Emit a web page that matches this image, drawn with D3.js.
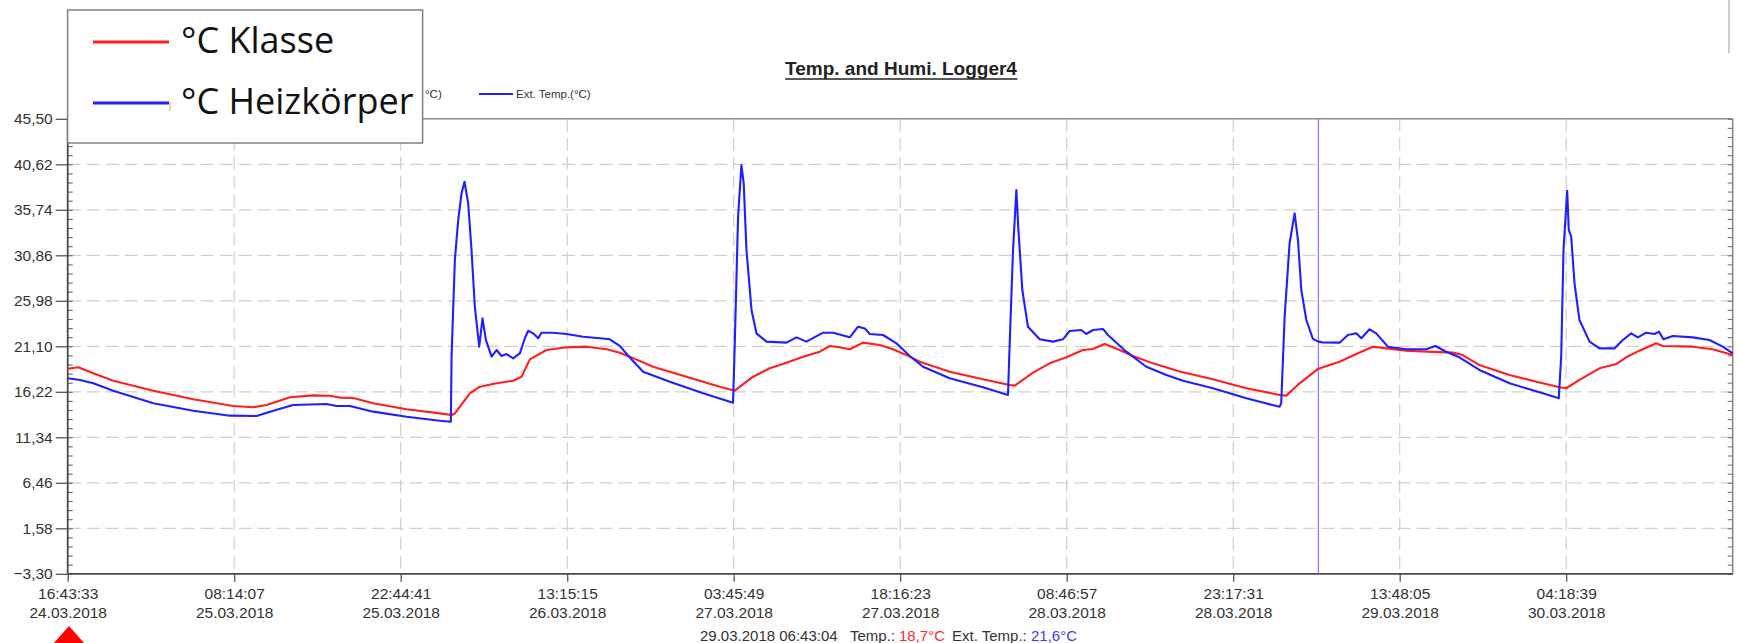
<!DOCTYPE html>
<html>
<head>
<meta charset="utf-8">
<script src="https://cdn.jsdelivr.net/npm/d3@7"></script>
<style>
  html, body { margin: 0; padding: 0; background: #fff; }
  svg { display: block; font-family: "Liberation Sans", Arial, sans-serif; }
</style>
</head>
<body>
<svg id="chart" width="1739" height="643"></svg>
<script>
// ---- Logger time frame ----
const startTime = "2018-03-24T16:43:33+01:00";
const endTime   = "2018-03-30T18:49:13+02:00";

const xTickTimes = [
  "2018-03-24T16:43:33+01:00", "2018-03-25T08:14:07+02:00", "2018-03-25T22:44:41+02:00",
  "2018-03-26T13:15:15+02:00", "2018-03-27T03:45:49+02:00", "2018-03-27T18:16:23+02:00",
  "2018-03-28T08:46:57+02:00", "2018-03-28T23:17:31+02:00", "2018-03-29T13:48:05+02:00",
  "2018-03-30T04:18:39+02:00"
];
const xTickClock = ["16:43:33", "08:14:07", "22:44:41", "13:15:15", "03:45:49",
                    "18:16:23", "08:46:57", "23:17:31", "13:48:05", "04:18:39"];
const xTickDates = ["24.03.2018", "25.03.2018", "25.03.2018", "26.03.2018", "27.03.2018",
                    "27.03.2018", "28.03.2018", "28.03.2018", "29.03.2018", "30.03.2018"];

const yTicks = [-3.30, 1.58, 6.46, 11.34, 16.22, 21.10, 25.98, 30.86, 35.74, 40.62, 45.50];

// ---- Series: hours since start / temperature in °C ----
const klasseHours = [0, 0.92, 2.23, 3.97, 7.46, 10.94, 14.43, 16.17, 17.33, 19.37, 21.40, 22.85, 23.72, 24.88,
  26.62, 29.53, 32.43, 33.45, 33.74, 35.05, 35.92, 37.37, 38.82, 39.55, 40.27, 41.73, 43.47, 45.21, 46.96,
  48.11, 48.98, 51.01, 53.92, 56.82, 58.13, 59.73, 61.18, 62.64, 64.08, 65.54, 66.41, 67.28, 68.15, 69.31,
  70.76, 71.92, 73.38, 74.25, 76.86, 79.76, 82.09, 82.53, 84.12, 85.57, 87.03, 88.47, 89.35, 90.36, 91.67,
  92.83, 94.57, 96.90, 99.80, 102.71, 105.61, 106.19, 107.35, 108.99, 110.84, 112.29, 113.74, 114.90,
  116.64, 118.97, 120.71, 121.50, 123.02, 125.65, 128.55, 130.00, 130.59, 131.74, 133.49, 134.94, 135.81,
  136.97, 138.42, 139.00, 141.62, 143.36, 145.09];
const klasseTemps = [18.70, 18.85, 18.20, 17.41, 16.34, 15.42, 14.70, 14.56, 14.80, 15.63, 15.84, 15.80, 15.60, 15.55,
  14.99, 14.34, 13.91, 13.73, 13.90, 16.06, 16.77, 17.13, 17.41, 17.84, 19.70, 20.70, 20.99, 21.06, 20.78,
  20.40, 19.99, 18.91, 17.84, 16.77, 16.34, 17.84, 18.74, 19.34, 19.99, 20.52, 21.13, 20.99, 20.78, 21.49,
  21.24, 20.78, 19.99, 19.45, 18.38, 17.56, 16.95, 16.88, 18.27, 19.27, 19.92, 20.70, 20.81, 21.35, 20.70,
  20.06, 19.27, 18.40, 17.56, 16.60, 15.88, 15.81, 17.13, 18.70, 19.45, 20.27, 21.06, 20.88,
  20.63, 20.50, 20.42, 20.20, 19.09, 18.02, 17.13, 16.70, 16.60, 17.49, 18.74, 19.20, 19.92,
  20.63, 21.42, 21.13, 21.06, 20.78, 20.17];

const heizHours = [0, 1.07, 2.23, 3.97, 7.46, 10.94, 14.14, 16.46, 17.91, 19.65, 22.56, 23.43, 24.59,
  26.62, 29.53, 32.43, 33.39, 33.45, 33.74, 34.03, 34.32, 34.58, 34.90, 35.19, 35.48, 35.86, 36.15, 36.44,
  36.94, 37.37, 37.81, 38.24, 38.82, 39.40, 39.84, 40.13, 40.56, 41.00, 41.29, 42.30, 43.47, 44.92, 46.37,
  47.24, 48.11, 48.98, 50.14, 52.47, 55.37, 57.98, 58.10, 58.42, 58.71, 58.91, 59.15, 59.59, 60.02, 60.89,
  62.64, 63.51, 64.38, 65.83, 66.70, 68.15, 68.88, 69.46, 69.89, 71.05, 72.22, 73.38, 74.54, 76.86, 79.76,
  81.94, 82.05, 82.38, 82.67, 82.84, 83.19, 83.68, 84.70, 85.86, 86.73, 87.31, 88.33, 88.76, 89.35, 90.22,
  90.65, 92.25, 94.00, 95.74, 97.20, 99.80, 102.71, 105.61, 105.75, 106.05, 106.48, 106.92, 107.21, 107.50,
  107.94, 108.51, 108.99, 109.38, 110.84, 111.56, 112.29, 112.73, 113.45, 114.03, 115.04, 116.64, 118.38,
  119.19, 120.12, 121.28, 123.02, 125.65, 128.55, 129.94, 130.15, 130.35, 130.53, 130.67, 130.81, 131.02,
  131.31, 131.74, 132.62, 133.49, 134.80, 135.52, 136.25, 136.83, 137.56, 138.28, 138.66, 139.06, 139.87,
  141.62, 143.07, 144.23, 145.09];
const heizTemps = [17.67, 17.49, 17.13, 16.34, 14.99, 14.19, 13.66, 13.62, 14.19, 14.80, 14.91, 14.70, 14.70,
  14.09, 13.55, 13.12, 13.01, 19.99, 30.36, 34.65, 37.51, 38.75, 36.44, 31.43, 25.35, 21.06, 24.10, 21.78,
  19.99, 20.70, 20.06, 20.27, 19.81, 20.35, 21.96, 22.77, 22.49, 21.96, 22.56, 22.56, 22.42, 22.13, 21.96,
  21.85, 21.15, 19.90, 18.38, 17.30, 16.06, 15.05, 20.00, 35.00, 40.54, 38.58, 31.43, 25.00, 22.49, 21.60,
  21.49, 22.06, 21.60, 22.56, 22.56, 22.06, 23.20, 23.02, 22.42, 22.31, 21.42, 20.06, 18.91, 17.67, 16.70,
  15.88, 20.00, 31.43, 37.87, 33.76, 27.14, 23.20, 21.85, 21.60, 21.85, 22.74, 22.85, 22.42, 22.85, 22.96,
  22.31, 20.52, 18.91, 18.02, 17.40, 16.60, 15.52, 14.62, 15.00, 24.28, 32.15, 35.36, 32.50, 27.14,
  23.92, 21.90, 21.60, 21.50, 21.49, 22.31, 22.49, 21.96, 22.92, 22.49, 21.06, 20.78, 20.78,
  21.13, 20.52, 19.92, 18.56, 17.13, 16.06, 15.52, 20.00, 31.43, 35.00, 37.79, 33.58, 32.86,
  27.86, 23.92, 21.60, 20.88, 20.88, 21.78, 22.49, 22.06, 22.56, 22.42, 22.67, 21.85, 22.20,
  22.06, 21.78, 21.06, 20.35];

// ---- Cursor readout ----
const cursorTime = "2018-03-29T06:43:04+02:00";
const cursorLabel = "29.03.2018 06:43:04";
const cursorTemp = "18,7°C";
const cursorExtTemp = "21,6°C";

const title = "Temp. and Humi. Logger4";
const legendLabels = ["°C Klasse", "°C Heizkörper"];
const seriesColors = ["#ff1f1f", "#1f1fff"];

// ---- Layout ----
const svg = d3.select("#chart");
const plot = { left: 67.7, right: 1732.7, top: 118.8, bottom: 573.8 };
const t0 = new Date(startTime);

const x = d3.scaleTime()
  .domain([t0, new Date(endTime)])
  .range([plot.left, plot.right]);
const y = d3.scaleLinear()
  .domain([yTicks[0], yTicks[yTicks.length - 1]])
  .range([plot.bottom, plot.top]);

const xTicks = xTickTimes.map(s => new Date(s));
const minorStep = (yTicks[1] - yTicks[0]) / 5;
const yMinor = d3.range((yTicks.length - 1) * 5 + 1).map(i => yTicks[0] + i * minorStep);
const fmtY = d => d3.format(".2f")(d).replace(".", ",");

svg.append("rect").attr("width", 1739).attr("height", 643).attr("fill", "#fff");

// grid
const grid = svg.append("g").attr("stroke", "#cfcfcf").attr("stroke-width", 1.2)
  .attr("stroke-dasharray", "13,6");
grid.selectAll("line.h").data(yTicks.slice(1, -1)).join("line")
  .attr("x1", plot.left).attr("x2", plot.right)
  .attr("y1", d => y(d)).attr("y2", d => y(d));
grid.selectAll("line.v").data(xTicks.slice(1)).join("line")
  .attr("x1", d => x(d)).attr("x2", d => x(d))
  .attr("y1", plot.top).attr("y2", plot.bottom);

// logger's own legend row (its left part sits under the overlay legend)
svg.append("text").attr("x", 425).attr("y", 98)
  .attr("font-size", 11.5).attr("fill", "#333").text("°C)");
svg.append("line").attr("x1", 479).attr("x2", 513).attr("y1", 94).attr("y2", 94)
  .attr("stroke", "#1f1fff").attr("stroke-width", 2);
svg.append("text").attr("x", 516).attr("y", 98)
  .attr("font-size", 11.5).attr("fill", "#333").text("Ext. Temp.(°C)");

// title
const tt = svg.append("text").attr("x", 901).attr("y", 75).attr("text-anchor", "middle")
  .attr("font-size", 19).attr("font-weight", "bold").attr("fill", "#222").text(title);
const tb = tt.node().getBBox();
svg.append("line").attr("x1", tb.x).attr("x2", tb.x + tb.width)
  .attr("y1", 79).attr("y2", 79).attr("stroke", "#222").attr("stroke-width", 1.3);

// top-right edge line
svg.append("line").attr("x1", 1729).attr("x2", 1729).attr("y1", 0).attr("y2", 53)
  .attr("stroke", "#bdbdbd").attr("stroke-width", 1.5);

// frame
svg.append("line").attr("x1", plot.left).attr("x2", plot.right).attr("y1", plot.top).attr("y2", plot.top)
  .attr("stroke", "#8a8a8a").attr("stroke-width", 1.6);
svg.append("line").attr("x1", plot.right).attr("x2", plot.right).attr("y1", plot.top).attr("y2", plot.bottom)
  .attr("stroke", "#8a8a8a").attr("stroke-width", 1.6);

// left axis: labels + outer ticks
const gy = svg.append("g").attr("transform", `translate(${plot.left},0)`)
  .call(d3.axisLeft(y).tickValues(yTicks).tickFormat(fmtY).tickSize(12).tickPadding(3));
gy.select(".domain").remove();
gy.selectAll(".tick line").attr("stroke", "#555").attr("stroke-width", 1.3);
gy.selectAll(".tick text").attr("font-size", 15.5).attr("fill", "#333")
  .attr("font-family", '"Liberation Sans", Arial, sans-serif');

// inner minor ticks on left and right
const gyMinorL = svg.append("g").attr("transform", `translate(${plot.left},0)`)
  .call(d3.axisRight(y).tickValues(yMinor).tickSize(5).tickFormat(""));
gyMinorL.select(".domain").remove();
gyMinorL.selectAll(".tick line").attr("stroke", "#666").attr("stroke-width", 1.1);
const gyMinorR = svg.append("g").attr("transform", `translate(${plot.right},0)`)
  .call(d3.axisLeft(y).tickValues(yMinor).tickSize(5).tickFormat(""));
gyMinorR.select(".domain").remove();
gyMinorR.selectAll(".tick line").attr("stroke", "#777").attr("stroke-width", 1.1);

// bottom axis: two-line labels
const gx = svg.append("g").attr("transform", `translate(0,${plot.bottom})`)
  .call(d3.axisBottom(x).tickValues(xTicks).tickSize(8).tickFormat(""));
gx.select(".domain").remove();
gx.selectAll(".tick line").attr("stroke", "#555").attr("stroke-width", 1.3);
gx.selectAll(".tick").each(function (d, i) {
  const g = d3.select(this);
  g.append("text").attr("y", 25).attr("text-anchor", "middle").attr("font-size", 15.5)
    .attr("fill", "#333").text(xTickClock[i]);
  g.append("text").attr("y", 44).attr("text-anchor", "middle").attr("font-size", 15.5)
    .attr("fill", "#333").text(xTickDates[i]);
});

// axis lines
svg.append("line").attr("x1", plot.left).attr("x2", plot.left).attr("y1", plot.top).attr("y2", plot.bottom)
  .attr("stroke", "#4a4a4a").attr("stroke-width", 1.8);
svg.append("line").attr("x1", plot.left).attr("x2", plot.right).attr("y1", plot.bottom).attr("y2", plot.bottom)
  .attr("stroke", "#4a4a4a").attr("stroke-width", 1.8);

// cursor
const cx = x(new Date(cursorTime));
svg.append("line").attr("x1", cx).attr("x2", cx).attr("y1", plot.top).attr("y2", plot.bottom)
  .attr("stroke", "#8080ff").attr("stroke-width", 1.3);

// series
const toPoints = (hours, temps) => hours.map((h, i) => ({ t: new Date(t0.getTime() + h * 3600e3), v: temps[i] }));
const line = d3.line().x(d => x(d.t)).y(d => y(d.v));
[[klasseHours, klasseTemps], [heizHours, heizTemps]].forEach(([h, v], k) => {
  svg.append("path").datum(toPoints(h, v))
    .attr("d", line).attr("fill", "none")
    .attr("stroke", seriesColors[k]).attr("stroke-width", 2.1)
    .attr("stroke-linejoin", "round");
});

// cursor readout
const status = svg.append("text").attr("y", 641).attr("font-size", 15).attr("fill", "#333");
status.append("tspan").attr("x", 700).text(cursorLabel);
status.append("tspan").attr("x", 850).text("Temp.:");
status.append("tspan").attr("x", 899).attr("fill", "#ff2a2a").text(cursorTemp);
status.append("tspan").attr("x", 952).text("Ext. Temp.:");
status.append("tspan").attr("x", 1031).attr("fill", "#3a3aff").text(cursorExtTemp);

// overlay legend
const lg = svg.append("g");
lg.append("rect").attr("x", 67.6).attr("y", 10).attr("width", 355).attr("height", 133)
  .attr("fill", "#fff").attr("stroke", "#7f7f7f").attr("stroke-width", 1.5);
lg.append("rect").attr("x", 169).attr("y", 102).attr("width", 2).attr("height", 9).attr("fill", "#f6cf9e");
legendLabels.forEach((lab, i) => {
  const ly = [42, 103][i];
  lg.append("line").attr("x1", 93).attr("x2", 169).attr("y1", ly).attr("y2", ly)
    .attr("stroke", seriesColors[i]).attr("stroke-width", 3);
  lg.append("text").attr("x", 181).attr("y", ly + 11)
    .attr("font-family", '"Open Sans", "Noto Sans", sans-serif')
    .attr("font-size", 36).attr("fill", "#111").text(lab);
});

// red marker at bottom left
svg.append("path").attr("d", d3.line()([[69, 626], [92, 652], [46, 652]]) + "Z").attr("fill", "#ff0000");
</script>
</body>
</html>
